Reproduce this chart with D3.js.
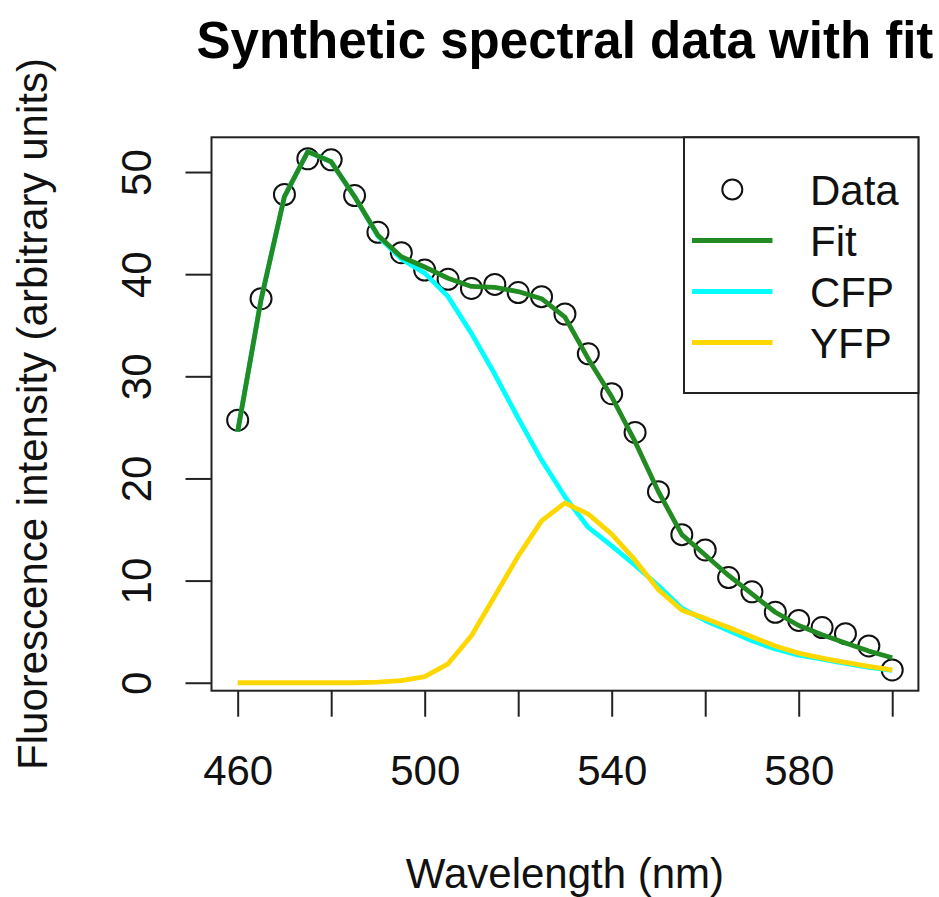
<!DOCTYPE html>
<html>
<head>
<meta charset="utf-8">
<script src="https://cdn.jsdelivr.net/npm/d3@7"></script>
<style>
  body { margin: 0; background: #fff; }
  svg { display: block; font-family: "Liberation Sans", Arial, Helvetica, sans-serif; }
</style>
</head>
<body>
<svg width="939" height="897"></svg>
<script>
// data
var wavelength = [460, 465, 470, 475, 480, 485, 490, 495, 500, 505, 510, 515, 520, 525, 530,
                  535, 540, 545, 550, 555, 560, 565, 570, 575, 580, 585, 590, 595, 600];
var observed = [25.7, 37.6, 47.8, 51.3, 51.2, 47.7, 44.1, 42.1, 40.4, 39.5, 38.6, 39.0, 38.2, 37.8, 36.1,
                32.2, 28.3, 24.5, 18.7, 14.5, 13.0, 10.3, 8.9, 6.9, 6.1, 5.4, 4.8, 3.6, 1.25];
var fitLine = [24.6, 37.5, 47.6, 52.0, 51.0, 47.6, 43.8, 41.7, 40.7, 39.6, 38.8, 38.7, 38.3, 37.6, 35.8,
               31.7, 28.0, 23.6, 18.7, 14.5, 12.5, 10.5, 8.7, 6.9, 5.6, 4.7, 3.9, 3.1, 2.45];
var cfp = [24.6, 37.5, 47.6, 52.0, 51.0, 47.6, 43.7, 41.5, 40.1, 37.8, 34.2, 30.2, 25.9, 21.8, 18.2,
           15.2, 13.4, 11.5, 9.5, 7.3, 6.1, 5.1, 4.1, 3.3, 2.7, 2.3, 1.9, 1.5, 1.2];
var yfp = [0, 0, 0, 0, 0, 0, 0.05, 0.2, 0.6, 1.85, 4.6, 8.5, 12.4, 15.85, 17.6,
           16.5, 14.55, 12.0, 9.1, 7.1, 6.3, 5.4, 4.5, 3.6, 2.9, 2.4, 2.0, 1.6, 1.25];

var xTicks = [460, 480, 500, 520, 540, 560, 580, 600];
var xLabels = [460, 500, 540, 580];
var yTicks = [0, 10, 20, 30, 40, 50];

var legendItems = [
  {label: 'Data', type: 'point'},
  {label: 'Fit', type: 'line', color: '#228B22'},
  {label: 'CFP', type: 'line', color: '#00FFFF'},
  {label: 'YFP', type: 'line', color: '#FFD700'}
];

var svg = d3.select('svg');

// plot region (R pads the data range by 4%)
var pLeft = 211.5, pRight = 918.4, pTop = 137.3, pBottom = 690.7;

var x = d3.scaleLinear().domain([454.4, 605.6]).range([pLeft, pRight]);
var y = d3.scaleLinear().domain([-0.78, 53.4]).range([pBottom, pTop]);

// points first, like plot()
svg.append('g').selectAll('circle')
  .data(wavelength)
  .enter()
  .append('circle')
  .attr('cx', d => x(d))
  .attr('cy', (d, i) => y(observed[i]))
  .attr('r', 10.5)
  .attr('fill', 'none')
  .attr('stroke', '#111')
  .attr('stroke-width', 2);

var line = d3.line()
  .x((d, i) => x(wavelength[i]))
  .y(d => y(d));

[[cfp, '#00FFFF'], [yfp, '#FFD700'], [fitLine, '#228B22']].forEach(function(s) {
  svg.append('path')
    .attr('d', line(s[0]))
    .attr('fill', 'none')
    .attr('stroke', s[1])
    .attr('stroke-width', 4.8)
    .attr('stroke-linejoin', 'round');
});

// axes
var xAxis = svg.append('g')
  .attr('transform', 'translate(0,' + pBottom + ')')
  .call(d3.axisBottom(x).tickValues(xTicks).tickSize(26).tickSizeOuter(0)
    .tickFormat(d => xLabels.indexOf(d) >= 0 ? d : ''));
xAxis.select('.domain').remove();
xAxis.selectAll('line').attr('stroke', '#222').attr('stroke-width', 2);
xAxis.selectAll('text')
  .attr('y', 94.3)
  .attr('dy', 0)
  .attr('font-size', 42)
  .attr('fill', '#111')
  .attr('font-family', '"Liberation Sans", Arial, sans-serif');

var yAxis = svg.append('g')
  .attr('transform', 'translate(' + pLeft + ',0)')
  .call(d3.axisLeft(y).tickValues(yTicks).tickSize(26).tickSizeOuter(0));
yAxis.select('.domain').remove();
yAxis.selectAll('line').attr('stroke', '#222').attr('stroke-width', 2);
yAxis.selectAll('text')
  .attr('x', 0).attr('y', 0).attr('dy', 0)
  .attr('transform', 'translate(-60.5,0) rotate(-90)')
  .attr('text-anchor', 'middle')
  .attr('font-size', 42)
  .attr('fill', '#111')
  .attr('font-family', '"Liberation Sans", Arial, sans-serif');

// box
svg.append('rect')
  .attr('x', pLeft).attr('y', pTop)
  .attr('width', pRight - pLeft).attr('height', pBottom - pTop)
  .attr('fill', 'none')
  .attr('stroke', '#222')
  .attr('stroke-width', 2);

// legend
var lg = svg.append('g');
lg.append('rect')
  .attr('x', 684).attr('y', pTop)
  .attr('width', pRight - 684).attr('height', 393 - pTop)
  .attr('fill', '#fff')
  .attr('stroke', '#222')
  .attr('stroke-width', 2);

var rowY = d3.scaleLinear().domain([0, 1]).range([189.5, 240.5]);
legendItems.forEach(function(it, i) {
  var cy = rowY(i);
  if (it.type === 'point') {
    lg.append('circle')
      .attr('cx', 732.3).attr('cy', cy).attr('r', 10)
      .attr('fill', 'none').attr('stroke', '#111').attr('stroke-width', 2);
  } else {
    lg.append('line')
      .attr('x1', 692).attr('x2', 772.5)
      .attr('y1', cy).attr('y2', cy)
      .attr('stroke', it.color).attr('stroke-width', 4.8);
  }
  lg.append('text')
    .attr('x', 810).attr('y', cy + 15)
    .attr('font-size', 42)
    .attr('fill', '#111')
    .text(it.label);
});

// titles
svg.append('text')
  .attr('x', (pLeft + pRight) / 2).attr('y', 58)
  .attr('text-anchor', 'middle')
  .attr('font-size', 51)
  .attr('font-weight', 'bold')
  .attr('fill', '#000')
  .text('Synthetic spectral data with fit');

svg.append('text')
  .attr('x', (pLeft + pRight) / 2).attr('y', 888)
  .attr('text-anchor', 'middle')
  .attr('font-size', 42)
  .attr('fill', '#111')
  .text('Wavelength (nm)');

svg.append('text')
  .attr('transform', 'translate(47,' + (pTop + pBottom) / 2 + ') rotate(-90)')
  .attr('text-anchor', 'middle')
  .attr('font-size', 42)
  .attr('fill', '#111')
  .text('Fluorescence intensity (arbitrary units)');
</script>
</body>
</html>
